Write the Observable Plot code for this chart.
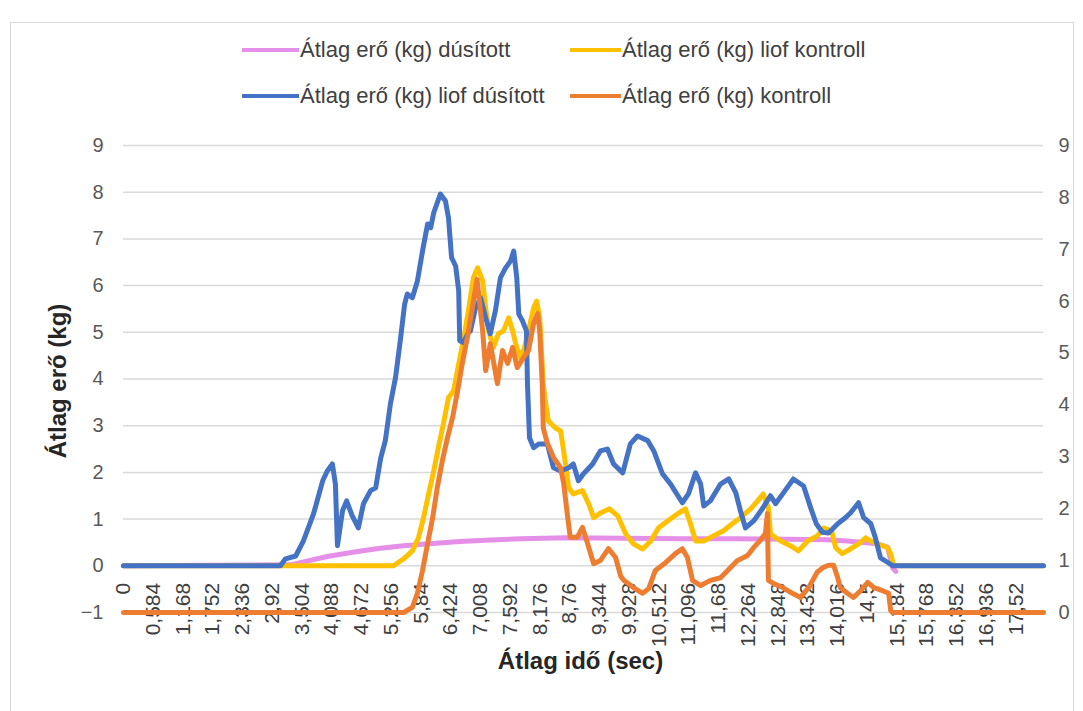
<!DOCTYPE html>
<html><head><meta charset="utf-8">
<script src="https://cdn.jsdelivr.net/npm/d3@7"></script>
<script src="https://cdn.jsdelivr.net/npm/@observablehq/plot@0.6"></script>
<style>
body{margin:0;background:#fff;}
#wrap{position:relative;width:1083px;height:711px;overflow:hidden;background:#fff;font-family:"Liberation Sans",sans-serif;}
#frame{position:absolute;left:10px;top:22px;width:1064px;height:700px;border:1.5px solid #d9d9d9;box-sizing:border-box;}
#chart{position:absolute;left:0;top:0;}
.sw{position:absolute;height:4px;}
.lt{position:absolute;font-size:22px;line-height:26px;height:26px;color:#404040;white-space:nowrap;}
</style></head>
<body>
<div id="wrap"><div id="frame"></div><div id="chart"></div><div id="legend"></div></div>
<script>
// ---- data (time in sec, force in kg) ----
const seriesNames = ["Átlag erő (kg) dúsított","Átlag erő (kg) liof kontroll","Átlag erő (kg) liof dúsított","Átlag erő (kg) kontroll"];
const seriesColors = ["#e58fe8","#ffc000","#4472c4","#ed7d31"];

const pinkT = [0,3.28,3.6,4.0,4.5,5.0,5.5,6.0,6.6,7.2,7.8,8.7,9.8,11.0,12.0,13.0,13.8,14.2,14.8,15.0,15.1,15.16];
const pinkV = [0,0.02,0.1,0.2,0.29,0.37,0.43,0.47,0.52,0.55,0.58,0.6,0.59,0.58,0.58,0.57,0.56,0.53,0.47,0.4,-0.05,-0.12];

const yellowT = [0,5.30,5.50,5.67,5.79,5.89,5.99,6.09,6.18,6.28,6.38,6.48,6.58,6.67,6.77,6.87,6.95,7.05,7.11,7.17,7.26,7.36,7.46,7.56,7.64,7.70,7.79,7.87,7.95,8.05,8.11,8.17,8.24,8.28,8.34,8.48,8.58,8.64,8.74,8.83,9.01,9.13,9.23,9.36,9.54,9.70,9.86,10.01,10.19,10.35,10.50,10.68,10.90,11.03,11.13,11.23,11.39,11.58,11.78,11.95,12.11,12.31,12.45,12.56,12.66,12.70,12.90,13.09,13.25,13.43,13.62,13.75,13.90,13.98,14.11,14.27,14.43,14.57,14.67,14.80,15.0,15.06,15.12,18.06];
const yellowV = [0,0,0.15,0.32,0.6,1.03,1.54,2.03,2.53,3.04,3.6,3.75,4.32,4.82,5.46,6.17,6.38,6.1,5.52,5.03,4.67,4.97,5.03,5.31,5.03,4.75,4.45,4.67,5.03,5.52,5.67,5.31,3.9,3.53,3.1,2.95,2.89,2.46,1.67,1.54,1.61,1.33,1.03,1.13,1.22,1.07,0.68,0.47,0.36,0.53,0.81,0.96,1.13,1.22,0.9,0.53,0.53,0.64,0.75,0.9,1.03,1.22,1.39,1.54,1.24,0.68,0.53,0.43,0.32,0.53,0.64,0.81,0.75,0.39,0.26,0.36,0.47,0.6,0.53,0.47,0.39,0.26,0,0];

const blueT = [0,3.08,3.18,3.38,3.53,3.73,3.91,4.00,4.10,4.16,4.20,4.30,4.38,4.49,4.61,4.71,4.85,4.95,5.05,5.14,5.24,5.34,5.44,5.52,5.57,5.67,5.77,5.87,5.97,6.03,6.09,6.22,6.32,6.38,6.44,6.52,6.58,6.60,6.67,6.77,6.81,6.91,7.01,7.11,7.20,7.30,7.40,7.50,7.60,7.66,7.72,7.76,7.83,7.91,7.93,7.97,8.05,8.15,8.32,8.44,8.58,8.74,8.83,8.93,9.03,9.21,9.36,9.50,9.62,9.80,9.95,10.09,10.29,10.41,10.58,10.74,10.97,11.09,11.23,11.33,11.39,11.52,11.72,11.88,12.02,12.11,12.21,12.37,12.54,12.70,12.80,12.94,13.15,13.35,13.49,13.60,13.72,13.84,14.02,14.14,14.27,14.43,14.53,14.67,14.76,14.86,15.02,15.10,18.06];
const blueV = [0,0,0.15,0.21,0.53,1.11,1.82,2.03,2.18,1.75,0.43,1.18,1.39,1.07,0.81,1.33,1.61,1.67,2.31,2.68,3.47,4.03,4.88,5.61,5.82,5.74,6.1,6.74,7.32,7.24,7.56,7.96,7.81,7.45,6.6,6.42,5.89,4.82,4.78,4.99,5.03,5.52,5.74,5.31,4.97,5.46,6.17,6.38,6.53,6.74,6.17,5.39,5.25,5.03,3.9,2.74,2.53,2.61,2.61,2.1,2.03,2.1,2.18,1.82,1.97,2.18,2.46,2.5,2.18,1.99,2.61,2.78,2.68,2.46,1.97,1.75,1.35,1.54,1.99,1.75,1.28,1.39,1.75,1.86,1.56,1.18,0.81,0.96,1.22,1.5,1.33,1.54,1.86,1.71,1.24,0.9,0.72,0.7,0.9,1.0,1.13,1.35,1.03,0.9,0.6,0.17,0.06,0,0];

// kontroll is plotted against the secondary (right) axis, 0..9
const orangeT = [0,5.50,5.67,5.77,5.87,5.97,6.07,6.16,6.26,6.36,6.46,6.56,6.65,6.75,6.85,6.94,6.98,7.05,7.11,7.20,7.34,7.44,7.54,7.64,7.73,7.85,7.95,8.05,8.13,8.17,8.22,8.24,8.32,8.44,8.58,8.64,8.72,8.77,8.91,9.01,9.11,9.23,9.36,9.52,9.66,9.76,9.82,10.01,10.19,10.31,10.44,10.64,10.84,10.97,11.07,11.17,11.33,11.52,11.72,11.86,12.05,12.25,12.37,12.50,12.60,12.64,12.66,12.76,12.94,13.13,13.29,13.45,13.62,13.74,13.84,13.94,14.02,14.07,14.21,14.33,14.47,14.61,14.73,14.90,15.02,15.06,15.10,18.06];
const orangeV = [0,0,0.1,0.37,0.81,1.33,1.83,2.41,2.93,3.37,3.76,4.28,4.8,5.3,5.88,6.42,6.07,5.43,4.66,5.18,4.41,5.05,4.8,5.11,4.72,4.91,5.05,5.57,5.76,5.43,4.41,3.56,3.26,2.99,2.79,2.49,1.83,1.45,1.45,1.64,1.33,0.94,1.0,1.23,1.06,0.7,0.62,0.48,0.37,0.46,0.81,0.96,1.14,1.23,1.06,0.62,0.52,0.62,0.67,0.81,1.0,1.1,1.25,1.39,1.52,1.91,0.62,0.56,0.48,0.37,0.29,0.48,0.78,0.87,0.91,0.91,0.67,0.48,0.37,0.29,0.42,0.58,0.48,0.42,0.37,0.04,0,0];

const leftTicks = [-1,0,1,2,3,4,5,6,7,8,9];
const rightTicks = [0,1,2,3,4,5,6,7,8,9];
const xTickLabels = ["0","0,584","1,168","1,752","2,336","2,92","3,504","4,088","4,672","5,256","5,84","6,424","7,008","7,592","8,176","8,76","9,344","9,928","10,512","11,096","11,68","12,264","12,848","13,432","14,016","14,5","15,184","15,768","16,352","16,936","17,52"];
const xMax = 18.06;

// ---- build ----
const toRows = (T, V, s) => T.map((t, i) => ({t, v: V[i], s}));
// secondary axis 0..9 spans primary -1..9
const sec = r => -1 + r * 10 / 9;
const rows = [
  ...toRows(pinkT, pinkV, seriesNames[0]),
  ...toRows(yellowT, yellowV, seriesNames[1]),
  ...toRows(blueT, blueV, seriesNames[2]),
  ...toRows(orangeT, orangeV.map(sec), seriesNames[3])
];
const xTicks = xTickLabels.map((l, i) => i * 0.584);

const font = '"Liberation Sans",sans-serif';
const chart = Plot.plot({
  width: 1083, height: 711,
  marginTop: 145, marginBottom: 99, marginLeft: 123, marginRight: 40,
  style: {fontFamily: font, background: "transparent", overflow: "visible"},
  x: {domain: [0, xMax], axis: null},
  y: {domain: [-1, 9], axis: null},
  color: {domain: seriesNames, range: seriesColors},
  marks: [
    Plot.gridY(leftTicks, {stroke: "#d9d9d9", strokeOpacity: 1, strokeWidth: 1.5}),
    Plot.axisY(leftTicks, {anchor: "left", tickSize: 0, tickPadding: 20, fontSize: 20, color: "#595959", label: null}),
    Plot.axisY(rightTicks.map(sec), {anchor: "right", tickSize: 0, tickPadding: 15, fontSize: 20, color: "#595959", label: null, tickFormat: (d, i) => String(rightTicks[i])}),
    Plot.text(xTickLabels, {x: (d, i) => xTicks[i], y: () => 0, text: d => d, rotate: -90, textAnchor: "end", lineAnchor: "middle", dy: 17, fontSize: 21, fill: "#404040"}),
    Plot.line(rows, {x: "t", y: "v", z: "s", stroke: "s", strokeWidth: 5, strokeLinejoin: "round", strokeLinecap: "round"}),
    Plot.text(["Átlag erő (kg)"], {frameAnchor: "left", textAnchor: "middle", lineAnchor: "middle", rotate: -90, dx: -65, dy: 2, text: d => d, fontSize: 24, fontWeight: "bold", fill: "#262626"}),
    Plot.text(["Átlag idő (sec)"], {frameAnchor: "bottom", textAnchor: "middle", lineAnchor: "middle", dy: 49, dx: -3, text: d => d, fontSize: 24, fontWeight: "bold", fill: "#262626"})
  ]
});
document.getElementById("chart").appendChild(chart);

// ---- legend ----
const legendPos = [[242, 300, 50], [570, 622, 50], [242, 300, 96], [570, 622, 96]];
const lg = document.getElementById("legend");
seriesNames.forEach((n, i) => {
  const [sx, tx, cy] = legendPos[i];
  const sw = document.createElement("div");
  sw.className = "sw";
  sw.style.left = sx + "px"; sw.style.top = (cy - 2) + "px";
  sw.style.width = (tx - sx - 1) + "px"; sw.style.background = seriesColors[i];
  lg.appendChild(sw);
  const t = document.createElement("div");
  t.className = "lt"; t.textContent = n;
  t.style.left = tx + "px"; t.style.top = (cy - 13) + "px";
  lg.appendChild(t);
});
</script>
</body></html>
